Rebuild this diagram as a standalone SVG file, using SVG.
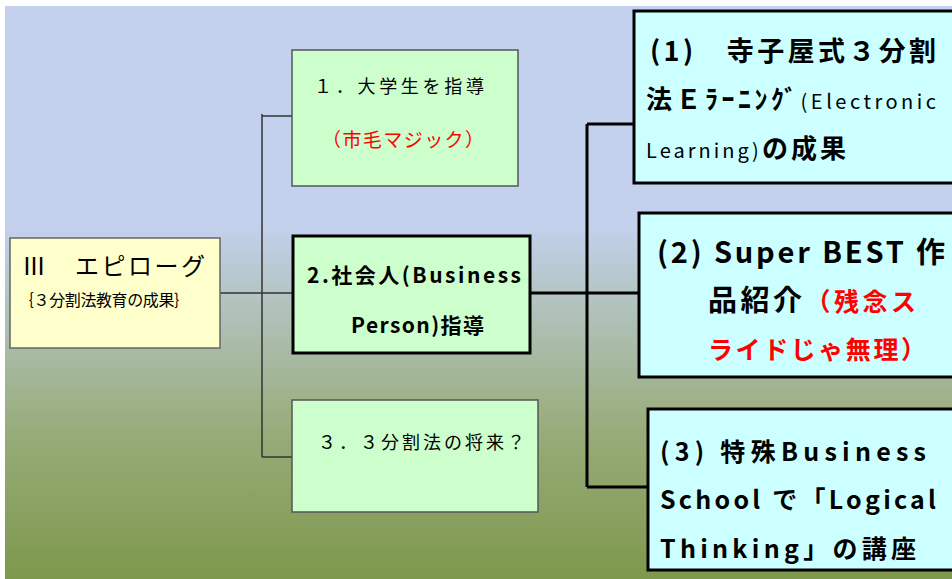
<svg xmlns="http://www.w3.org/2000/svg" width="952" height="579" viewBox="0 0 952 579">
<defs>
<linearGradient id="bg" x1="0" y1="0" x2="0" y2="1">
<stop offset="0" stop-color="#C3D1EE"/>
<stop offset="0.38" stop-color="#C3D1EE"/>
<stop offset="0.52" stop-color="#B2C3BE"/>
<stop offset="0.75" stop-color="#97AB78"/>
<stop offset="1" stop-color="#7E984C"/>
</linearGradient>
</defs>
<style>
.jp{font-family:"Noto Sans CJK JP","Liberation Sans",sans-serif;}
.thin{fill:none;stroke:#333;stroke-width:1.5;}
.thick{fill:none;stroke:#000;stroke-width:3;}
.leaf{fill:#CCFFCC;stroke:#555;stroke-width:1.5;}
.mid{fill:#CCFFCC;stroke:#000;stroke-width:3;}
.res{fill:#CCFFFF;stroke:#000;stroke-width:3;}
.root{fill:#FFFFCC;stroke:#666;stroke-width:1.5;}
.bold{font-weight:bold;}
.red{fill:#FF0000;}
</style>
<rect x="5" y="6" width="947" height="573" fill="url(#bg)"/>
<g id="connectors">
<path class="thin" d="M220,293 H293 M262,114 V457 M262,116 H292 M262,457 H292"/>
<path class="thick" d="M530,293 H639 M587,124 V487 M587,124 H634 M587,487 H648"/>
</g>
<g id="root">
<rect class="root" x="10" y="238" width="210" height="110"/>
<text x="22" y="275" font-size="24" font-family="Liberation Serif,Noto Sans CJK JP,serif" textLength="183" lengthAdjust="spacing">Ⅲ　エピローグ</text>
<text class="jp" x="18" y="306" font-size="16" textLength="172" lengthAdjust="spacing">｛３分割法教育の成果｝</text>
</g>
<g id="node1">
<rect class="leaf" x="292" y="50" width="226" height="136"/>
<text class="jp" x="314" y="93" font-size="18" textLength="170" lengthAdjust="spacing">１．大学生を指導</text>
<text class="jp red" x="322" y="147" font-size="19" textLength="162" lengthAdjust="spacing">（市毛マジック）</text>
</g>
<g id="node2">
<rect class="mid" x="293" y="236" width="237" height="117"/>
<text class="jp bold" x="307" y="283" font-size="21" textLength="214" lengthAdjust="spacing">2.社会人(Business</text>
<text class="jp bold" x="351" y="333" font-size="21" textLength="133" lengthAdjust="spacing">Person)指導</text>
</g>
<g id="node3">
<rect class="leaf" x="292" y="400" width="246" height="112"/>
<text class="jp" x="318" y="449" font-size="18" textLength="207" lengthAdjust="spacing">３．３分割法の将来？</text>
</g>
<g id="result1">
<rect class="res" x="634" y="11" width="330" height="172"/>
<text class="jp bold" x="650" y="61" font-size="27" textLength="286" lengthAdjust="spacing">(1)　寺子屋式３分割</text>
<text class="jp bold" x="646" y="109" font-size="26" textLength="290" lengthAdjust="spacing">法Ｅﾗｰﾆﾝｸﾞ<tspan font-size="20" font-weight="normal">(Electronic</tspan></text>
<text class="jp bold" x="646" y="158" font-size="26" textLength="200" lengthAdjust="spacing"><tspan font-size="20" font-weight="normal">Learning)</tspan>の成果</text>
</g>
<g id="result2">
<rect class="res" x="639" y="213" width="325" height="164"/>
<text class="jp bold" x="657" y="263" font-size="29" textLength="288" lengthAdjust="spacing">(2) Super BEST 作</text>
<text class="jp bold" x="708" y="311" font-size="29" textLength="208" lengthAdjust="spacing">品紹介<tspan class="red" font-size="25">（残念ス</tspan></text>
<text class="jp bold red" x="708" y="359" font-size="25" textLength="218" lengthAdjust="spacing">ライドじゃ無理）</text>
</g>
<g id="result3">
<rect class="res" x="648" y="409" width="316" height="161"/>
<text class="jp bold" x="660" y="461" font-size="25" textLength="266" lengthAdjust="spacing">(3) 特殊Business</text>
<text class="jp bold" x="660" y="509" font-size="25" textLength="276" lengthAdjust="spacing">School で「Logical</text>
<text class="jp bold" x="660" y="558" font-size="25" textLength="256" lengthAdjust="spacing">Thinking」の講座</text>
</g>
</svg>
